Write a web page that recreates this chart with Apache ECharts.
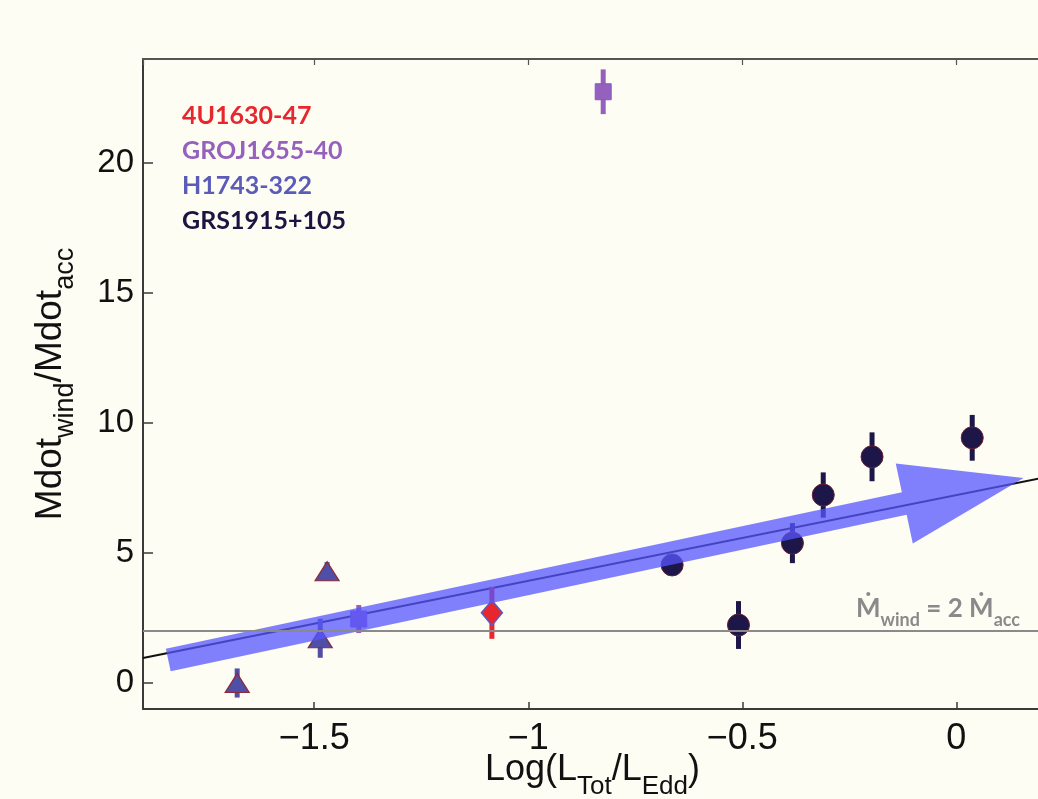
<!DOCTYPE html>
<html><head><meta charset="utf-8">
<script src="https://cdn.jsdelivr.net/npm/echarts@6/dist/echarts.min.js"></script>
<style>html,body{margin:0;padding:0;background:#fdfdf4;}#c{width:1038px;height:799px;}</style>
</head><body><div id="c"></div>
<script>
// ---- data ----
const seriesNames = ['4U1630-47', 'GROJ1655-40', 'H1743-322', 'GRS1915+105'];
const u1630X = [-1.085];
const u1630Y = [2.70];
const u1630Err = [1.0];
const groX = [-0.825, -1.396];
const groY = [22.74, 2.46];
const groErr = [0.86, 0.54];
const h1743X = [-1.68, -1.47, -1.486];
const h1743Y = [0.0, 4.3, 1.72];
const h1743Err = [0.56, 0.35, 0.75];
const grsX = [-0.664, -0.509, -0.383, -0.311, -0.197, 0.037];
const grsY = [4.54, 2.23, 5.38, 7.23, 8.70, 9.43];
const grsErr = [0.25, 0.92, 0.77, 0.87, 0.94, 0.88];
const fitX = [-1.9, 0.2];
const fitY = [0.96, 7.89];
const thresholdY = 2;
const arrowFrom = [-1.841, 0.88];
const arrowTo = [0.157, 7.88];
const xTicks = [-1.5, -1, -0.5, 0];
const yTicks = [0, 5, 10, 15, 20];

const colors = {
  '4U1630-47': '#e8262e',
  'GROJ1655-40': '#9561bd',
  'H1743-322': '#5b5cb7',
  'GRS1915+105': '#1d1442'
};
const AX = 'Liberation Sans, Arial, Helvetica, sans-serif';
const CAL = 'Lato, "Open Sans", "Noto Sans", sans-serif';

function pts(xs, ys) { return xs.map((x, i) => [x, ys[i]]); }
function errPts(xs, ys, es) { return xs.map((x, i) => [x, ys[i], es[i]]); }
function errSeries(name, xs, ys, es, color, w) {
  return {
    name: name, type: 'custom', z: 2, silent: true,
    encode: { x: 0, y: 1 },
    data: errPts(xs, ys, es),
    renderItem: function (params, api) {
      const x = api.value(0), y = api.value(1), e = api.value(2);
      const a = api.coord([x, y + e]), b = api.coord([x, y - e]);
      return { type: 'rect', shape: { x: a[0] - w / 2, y: a[1], width: w, height: b[1] - a[1] }, style: { fill: color } };
    }
  };
}
function fmtTick(list) {
  return function (v) {
    for (const t of list) if (Math.abs(t - v) < 1e-9) return String(t).replace('-', '\u2212');
    return '';
  };
}

const chart = echarts.init(document.getElementById('c'), null, { renderer: 'canvas' });
chart.setOption({
  backgroundColor: '#fdfdf4',
  animation: false,
  grid: { left: 143, right: -4, top: 59, bottom: 90, containLabel: false, outerBoundsMode: 'none' },
  legend: {
    orient: 'vertical', left: 172, top: 98, itemWidth: 0, itemHeight: 0, itemGap: 10,
    selectedMode: false,
    textStyle: { fontFamily: CAL, fontWeight: 'bold', fontSize: 25 },
    data: seriesNames.map(n => ({ name: n, icon: 'none', textStyle: { color: colors[n] } }))
  },
  xAxis: [{
    type: 'value', min: fitX[0], max: fitX[1], position: 'bottom',
    axisLine: { onZero: false, lineStyle: { color: '#3a3a3a', width: 2 } },
    axisTick: { inside: true, length: 7, lineStyle: { color: '#3a3a3a', width: 1.5 } },
    splitLine: { show: false },
    axisLabel: { fontFamily: AX, fontSize: 36, color: '#111', margin: 12, formatter: fmtTick(xTicks), showMinLabel: false, showMaxLabel: false },
    name: '{a|Log(L}{s|Tot}{a|/L}{s|Edd}{a|)}',
    nameLocation: 'middle', nameGap: 31, nameMoveOverlap: false,
    nameTextStyle: {
      rich: {
        a: { fontFamily: AX, fontSize: 36, color: '#111' },
        s: { fontFamily: AX, fontSize: 26, color: '#111', padding: [34, 0, 0, 0] }
      }
    }
  }, {
    type: 'value', min: fitX[0], max: fitX[1], position: 'top',
    axisLine: { onZero: false, lineStyle: { color: '#555', width: 2 } },
    axisTick: { inside: true, length: 6, lineStyle: { color: '#555', width: 1.2 } },
    axisLabel: { show: false }, splitLine: { show: false }
  }],
  yAxis: {
    type: 'value', min: -1, max: 24,
    axisLine: { show: true, onZero: false, lineStyle: { color: '#3a3a3a', width: 2 } },
    axisTick: { show: true, inside: true, length: 10, lineStyle: { color: '#3a3a3a', width: 1.5 } },
    splitLine: { show: false },
    axisLabel: { fontFamily: AX, fontSize: 33, color: '#111', margin: 9, formatter: fmtTick(yTicks), showMinLabel: false, showMaxLabel: false },
    name: '{a|Mdot}{s|wind}{a|/Mdot}{s|acc}',
    nameLocation: 'middle', nameGap: 64, nameRotate: 90,
    nameTextStyle: {
      rich: {
        a: { fontFamily: AX, fontSize: 37, color: '#111' },
        s: { fontFamily: AX, fontSize: 27, color: '#111', padding: [30, 0, 0, 0] }
      }
    }
  },
  series: [
    {
      name: 'threshold', type: 'line', data: [], z: 1, silent: true,
      markLine: {
        symbol: 'none', silent: true, animation: false,
        lineStyle: { color: '#8a8a8a', width: 2, type: 'solid' },
        label: {
          show: true, position: 'insideEndTop', distance: 2, padding: [0, 20, 0, 0],
          formatter: '{m|\u1E40}{s|wind}{m| = 2 \u1E40}{s|acc}',
          rich: {
            m: { fontFamily: CAL, fontWeight: 'bold', fontSize: 26, color: '#8a8a8a' },
            s: { fontFamily: CAL, fontWeight: 'bold', fontSize: 18, color: '#8a8a8a', padding: [22, 0, 0, 0] }
          }
        },
        data: [{ yAxis: thresholdY }]
      }
    },
    {
      name: 'fit', type: 'line', z: 1, silent: true, symbol: 'none',
      data: pts(fitX, fitY), lineStyle: { color: '#111', width: 2 }
    },
    errSeries('4U1630-47', u1630X, u1630Y, u1630Err, '#e8262e', 5),
    errSeries('GROJ1655-40', groX, groY, groErr, '#9561bd', 5),
    errSeries('H1743-322', h1743X, h1743Y, h1743Err, '#4f4fa8', 5),
    errSeries('GRS1915+105', grsX, grsY, grsErr, '#1c1748', 5),
    {
      name: '4U1630-47', type: 'scatter', z: 3, symbol: 'diamond', symbolSize: [21, 25],
      data: pts(u1630X, u1630Y),
      itemStyle: { color: '#e8262e', borderColor: '#5b5cc0', borderWidth: 1.5, opacity: 1 }
    },
    {
      name: 'GROJ1655-40', type: 'scatter', z: 3, symbol: 'rect', symbolSize: 16,
      data: pts(groX, groY),
      itemStyle: { color: '#9561bd', borderColor: '#7f5ad0', borderWidth: 1, opacity: 1 }
    },
    {
      name: 'H1743-322', type: 'scatter', z: 3, symbol: 'triangle', symbolSize: [24, 19],
      data: pts(h1743X, h1743Y),
      itemStyle: { color: '#4f4fa8', borderColor: '#8c2a3a', borderWidth: 1.2, opacity: 1 }
    },
    {
      name: 'GRS1915+105', type: 'scatter', z: 3, symbol: 'circle', symbolSize: 22,
      data: pts(grsX, grsY),
      itemStyle: { color: '#1c1748', borderColor: '#6b1f2f', borderWidth: 1, opacity: 1 }
    },
    {
      name: 'arrow', type: 'custom', z: 4, silent: true,
      encode: { x: [0, 2], y: [1, 3] },
      data: [[arrowFrom[0], arrowFrom[1], arrowTo[0], arrowTo[1]]],
      renderItem: function (params, api) {
        const p0 = api.coord([api.value(0), api.value(1)]);
        const p1 = api.coord([api.value(2), api.value(3)]);
        const dx = p1[0] - p0[0], dy = p1[1] - p0[1], L = Math.hypot(dx, dy);
        const ux = dx / L, uy = dy / L, nx = -uy, ny = ux;
        const hw = 11.5, hh = 41, hl = 122;
        const bx = p1[0] - ux * hl, by = p1[1] - uy * hl;
        const P = (x, y, k) => [x + nx * k, y + ny * k];
        return {
          type: 'polygon',
          shape: { points: [P(p0[0], p0[1], hw), P(bx, by, hw), P(bx, by, hh), p1, P(bx, by, -hh), P(bx, by, -hw), P(p0[0], p0[1], -hw)] },
          style: { fill: 'rgba(85,85,255,0.75)' }
        };
      }
    }
  ]
});
</script></body></html>
